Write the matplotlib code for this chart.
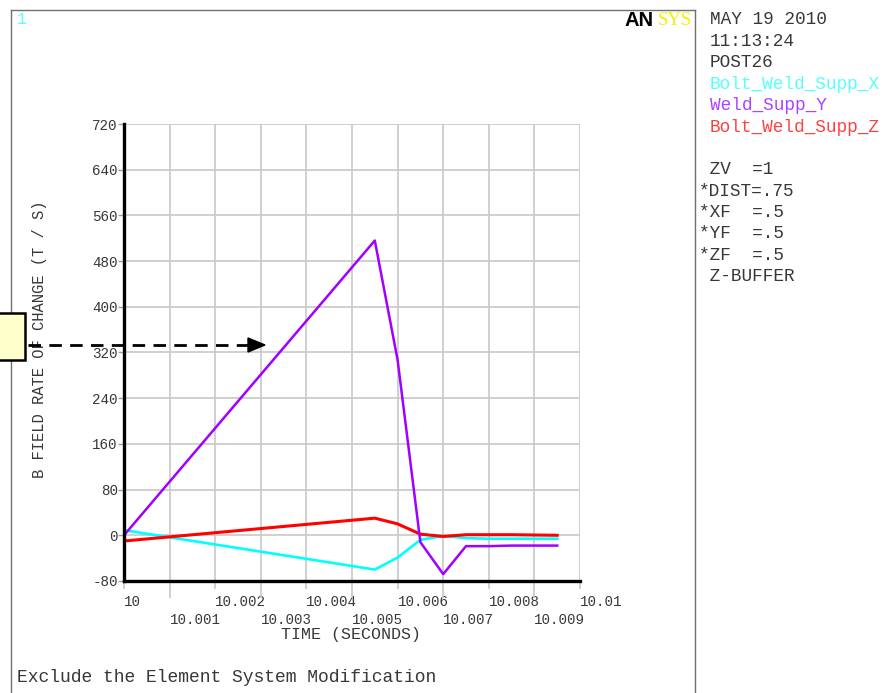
import matplotlib
matplotlib.use("Agg")
import matplotlib.pyplot as plt
from matplotlib.lines import Line2D
from matplotlib.patches import Rectangle, Polygon

# ---- data ----
time = [10.0, 10.0055, 10.006, 10.0065, 10.007, 10.0075, 10.008, 10.0085, 10.009, 10.0095]
bolt_weld_supp_x = [9, -60, -39, -8, -1, -5, -6, -6, -6, -6]
weld_supp_y = [0, 516, 307, -12, -68, -19, -19, -18, -18, -18]
bolt_weld_supp_z = [-10, 30, 20, 2, -2, 1, 1, 1, 0.5, 0]

series_names = ["Bolt_Weld_Supp_X", "Weld_Supp_Y", "Bolt_Weld_Supp_Z"]
series_colors = ["#00FFFF", "#A000FF", "#FF0000"]
label_colors = ["#55FFFF", "#B040FF", "#FF4040"]

x_major = [10.0, 10.002, 10.004, 10.006, 10.008, 10.01]
x_minor = [10.001, 10.003, 10.005, 10.007, 10.009]
x_major_labels = ["10", "10.002", "10.004", "10.006", "10.008", "10.01"]
x_minor_labels = ["10.001", "10.003", "10.005", "10.007", "10.009"]
y_ticks = [-80, 0, 80, 160, 240, 320, 400, 480, 560, 640, 720]

info_lines = ["MAY 19 2010", "11:13:24", "POST26"]
view_lines = [" ZV  =1", "*DIST=.75", "*XF  =.5", "*YF  =.5", "*ZF  =.5", " Z-BUFFER"]

W, H = 888, 693
mono = "Liberation Mono"
txt_col = "#383838"
plt.rcParams["font.family"] = [mono, "DejaVu Sans"]


def px(x, y):
    return (x / W, 1 - y / H)


fig = plt.figure(figsize=(W / 100, H / 100), dpi=100)
fig.patch.set_facecolor("white")

ax = fig.add_axes([124 / W, (H - 581) / H, (580 - 124) / W, (581 - 124) / H])
ax.set_xlim(10.0, 10.01)
ax.set_ylim(-80, 720)

ax.plot(time, bolt_weld_supp_x, color=series_colors[0], lw=1.9, zorder=3)
ax.plot(time, bolt_weld_supp_z, color=series_colors[2], lw=2.2, zorder=4)
ax.plot(time, weld_supp_y, color=series_colors[1], lw=1.8, zorder=5)

ax.set_xticks(x_major)
ax.set_xticklabels(x_major_labels)
ax.set_xticks(x_minor, minor=True)
ax.set_xticklabels(x_minor_labels, minor=True)
ax.set_yticks(y_ticks)
ax.set_yticklabels([str(v) for v in y_ticks])

ax.tick_params(axis="x", which="major", length=6, width=1.2, color="#c8c8c8",
               labelsize=10.2, pad=4, labelcolor=txt_col)
ax.tick_params(axis="x", which="minor", length=12, width=1.2, color="#c8c8c8",
               labelsize=10.2, pad=11, labelcolor=txt_col)
ax.tick_params(axis="y", length=4, width=1, color="#a0a0a0",
               labelsize=10.3, pad=0.5, labelcolor=txt_col)
for lab in ax.get_xticklabels() + ax.get_xticklabels(minor=True):
    lab.set_ha("left")

ax.grid(True, which="both", color="#c8c8c8", lw=1.2)
ax.set_axisbelow(True)
for s in ["top", "right"]:
    ax.spines[s].set_visible(False)
for s in ["left", "bottom"]:
    ax.spines[s].set_color("black")
    ax.spines[s].set_linewidth(2.4)
    ax.spines[s].set_zorder(6)

# axis titles
fig.text(*px(351, 635), "TIME (SECONDS)", ha="center", va="center",
         fontsize=12, color=txt_col)
fig.text(*px(40, 339), "B FIELD RATE OF CHANGE (T / S)", ha="center", va="center",
         rotation=90, fontsize=11.2, color=txt_col)

# window frame
frame_col = "#707070"
fig.add_artist(Line2D([px(11, 0)[0], px(11, 0)[0]], [px(0, 10)[1], 0], color=frame_col, lw=1))
fig.add_artist(Line2D([px(11, 0)[0], px(695, 0)[0]], [px(0, 10)[1]] * 2, color=frame_col, lw=1))
fig.add_artist(Line2D([px(695, 0)[0], px(695, 0)[0]], [px(0, 10)[1], 0], color=frame_col, lw=1))

fig.text(*px(17, 20), "1", ha="left", va="center", fontsize=12, color="#55FFFF")

# ANSYS logo
fig.text(*px(624, 20), "AN", ha="left", va="center", fontsize=14.5,
         family="Liberation Sans", weight="heavy", color="black")
fig.text(*px(658, 20.5), "SYS", ha="left", va="center", fontsize=13.5,
         family="Liberation Serif", color="#F0F000")

# info block on the right
y0, dy = 20, 21.4
rows = [(s, txt_col) for s in info_lines] + list(zip(series_names, label_colors))
for i, (s, c) in enumerate(rows):
    fig.text(*px(710, y0 + i * dy), s, ha="left", va="center", fontsize=12.8, color=c)
for i, s in enumerate(view_lines):
    fig.text(*px(699, 191 - dy + i * dy), s, ha="left", va="center", fontsize=12.8,
             color=txt_col)

fig.text(*px(17, 678), "Exclude the Element System Modification", ha="left",
         va="center", fontsize=13, color=txt_col)

# annotation box and dashed arrow
x0, y0b = px(0, 360)
x1, y1b = px(25, 313)
fig.add_artist(Rectangle((x0 - 0.01, y0b), x1 - x0 + 0.01, y1b - y0b, transform=fig.transFigure,
                         facecolor="#FFFFCC", edgecolor="black", lw=1.8, zorder=10))
fig.add_artist(Line2D([px(28, 0)[0], px(249, 0)[0]], [px(0, 345)[1]] * 2, color="black",
                      lw=2, dashes=(4.5, 3), zorder=10))
fig.add_artist(Polygon([px(248, 338), px(265, 345), px(248, 352)], closed=True,
                       transform=fig.transFigure, facecolor="black", edgecolor="black",
                       zorder=10))

fig.savefig("out.png", dpi=100)
